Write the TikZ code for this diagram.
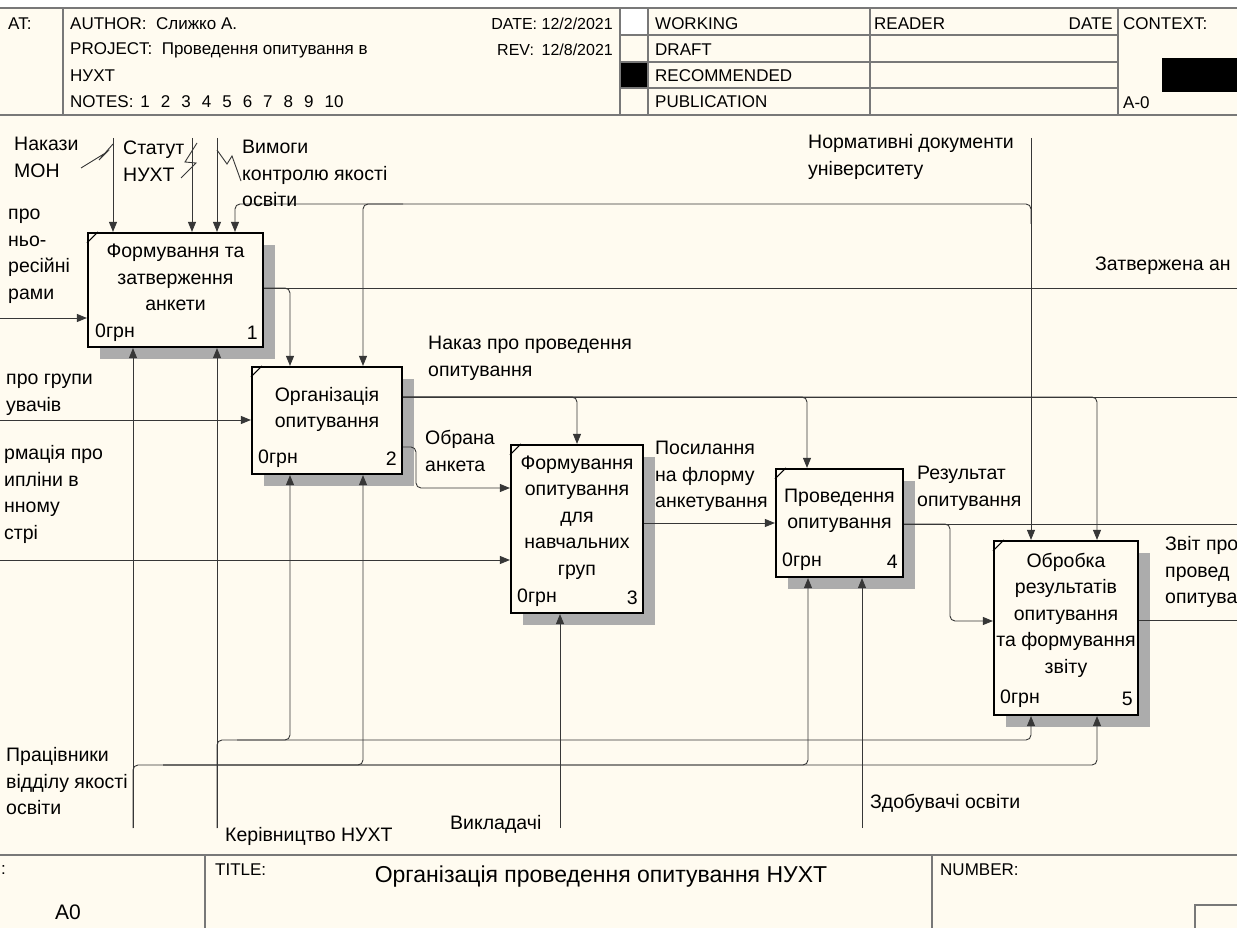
\documentclass[tikz,border=0pt]{standalone}
\usepackage{fontspec}
\setmainfont{Liberation Sans}
\usetikzlibrary{arrows.meta,shadows}
\definecolor{bg}{RGB}{255,251,240}
\definecolor{ln}{RGB}{55,55,55}
\definecolor{hd}{RGB}{120,120,120}
\definecolor{shd}{RGB}{172,172,172}
\newcommand{\fs}{\fontsize{19.5}{26.5}\selectfont}
\newcommand{\fh}{\fontsize{17}{20}\selectfont}
\newcommand{\ft}{\fontsize{23}{26}\selectfont}
\begin{document}
\begin{tikzpicture}[x=1pt,y=-1pt,
  conn/.style={draw=ln, line width=0.9pt, rounded corners=5pt},
  arr/.style={conn, -{Triangle[length=10pt,width=8pt]}},
  proc/.style={draw=black, line width=2.2pt, fill=bg, inner sep=0pt,
    general shadow={fill=shd, shadow xshift=12pt, shadow yshift=-12pt}},
  btxt/.style={align=center, inner sep=0pt, font=\fs},
  cost/.style={anchor=west, inner sep=0pt, font=\fs},
  numr/.style={anchor=east, inner sep=0pt, font=\fs},
  lbl/.style={anchor=north west, inner sep=0pt, align=left, font=\fs},
  hdr/.style={anchor=west, inner sep=0pt, font=\fh},
  hdline/.style={draw=hd, line width=1.5pt},
  sq/.style={draw=ln, line width=0.9pt},
]
\useasboundingbox (0,0) rectangle (1237,928);
\clip (0,0) rectangle (1237,928);
\fill[bg] (0,0) rectangle (1237,928);
\fill[white] (0,0) rectangle (1237,8);

% ---------- header ----------
\fill[white] (620,8) rectangle (648,35);
\fill[black] (620,62) rectangle (648,88);
\fill[black] (1162,58) rectangle (1237,92);
\draw[hdline] (0,8) -- (1237,8);
\draw[hdline] (0,115) -- (1237,115);
\draw[hdline] (63,8) -- (63,115);
\draw[hdline] (620,8) -- (620,115);
\draw[hdline] (648,8) -- (648,115);
\draw[hdline] (870,8) -- (870,115);
\draw[hdline] (1118,8) -- (1118,115);
\draw[hdline] (620,35) -- (1118,35);
\draw[hdline] (620,62) -- (1118,62);
\draw[hdline] (620,88) -- (1118,88);

\node[hdr] (hAT) at (8,24) {AT:};
\node[hdr] (hAu) at (70,24) {AUTHOR:\ \ Слижко А.};
\node[hdr] (hPr) at (70,50) {PROJECT:\ \ Проведення опитування в};
\node[hdr] (hNu) at (70,76) {НУХТ};
\node[hdr] (hNo) at (70,102) {NOTES:\hspace{7pt}1\hspace{11pt}2\hspace{11pt}3\hspace{11pt}4\hspace{11pt}5\hspace{11pt}6\hspace{11pt}7\hspace{11pt}8\hspace{11pt}9\hspace{11pt}10};
\node[hdr,anchor=east,font=\fontsize{16}{19}\selectfont] (hDa) at (613,24) {DATE: 12/2/2021};
\node[hdr,font=\fontsize{16}{19}\selectfont] (hRe) at (497,50) {REV:};
\node[hdr,anchor=east,font=\fontsize{16}{19}\selectfont] (hRe2) at (613,50) {12/8/2021};
\node[hdr] (hWo) at (655,24) {WORKING};
\node[hdr] (hDr) at (655,50) {DRAFT};
\node[hdr] (hRc) at (655,76) {RECOMMENDED};
\node[hdr] (hPu) at (655,102) {PUBLICATION};
\node[hdr] (hRd) at (874,24) {READER};
\node[hdr,anchor=east] (hDt) at (1113,24) {DATE};
\node[hdr] (hCx) at (1123,24) {CONTEXT:};
\node[hdr] (hA0) at (1123,103) {A-0};

% ---------- title block ----------
\draw[hdline] (0,855) -- (1237,855);
\draw[hdline] (205,855) -- (205,928);
\draw[hdline] (932,855) -- (932,928);
\draw[hdline] (1195,928) -- (1195,905) -- (1237,905);
\node[hdr] (tN) at (1,870) {:};
\node[hdr] (tT) at (215,870) {TITLE:};
\node[inner sep=0pt, font=\ft] (tTitle) at (601,877) {Організація проведення опитування НУХТ};
\node[hdr] (tNu) at (940,870) {NUMBER:};
\node[hdr, font=\fontsize{21}{24}\selectfont] (tA0) at (55,912) {A0};

% ---------- boxes ----------
\node[proc, minimum width=175pt, minimum height=114pt] (b1) at (175.5,290) {};
\node[proc, minimum width=150pt, minimum height=107pt] (b2) at (327,420.5) {};
\node[proc, minimum width=132pt, minimum height=168pt] (b3) at (577,529) {};
\node[proc, minimum width=127pt, minimum height=108pt] (b4) at (839.5,523) {};
\node[proc, minimum width=144pt, minimum height=174pt] (b5) at (1066,628) {};

\foreach \b in {b1,b2,b3,b4,b5}{
  \draw[line width=1pt] ([yshift=-11pt]\b.north west) -- ([xshift=11pt]\b.north west);
}

\node[btxt] (t1) at (175.5,279) {\strut Формування та\\затверження\\анкети\strut};
\node[btxt] (t2) at (327,409) {\strut Організація\\опитування\strut};
\node[btxt] (t3) at (577,517) {\strut Формування\\опитування\\для\\навчальних\\груп\strut};
\node[btxt] (t4) at (839.5,510) {\strut Проведення\\опитування\strut};
\node[btxt] (t5) at (1066,615) {\strut Обробка\\результатів\\опитування\\та формування\\звіту\strut};

\node[cost] (c1) at (95,333) {0грн};   \node[numr] (n1) at (258,333) {1};
\node[cost] (c2) at (258,459) {0грн};  \node[numr] (n2) at (397,459) {2};
\node[cost] (c3) at (517,598) {0грн};  \node[numr] (n3) at (638,598) {3};
\node[cost] (c4) at (782,562) {0грн};  \node[numr] (n4) at (898,562) {4};
\node[cost] (c5) at (1000,699) {0грн}; \node[numr] (n5) at (1133,699) {5};

% ---------- controls of box 1 ----------
\coordinate (nakT) at (113,138);
\coordinate (statT) at (192,138);
\coordinate (vymT) at (217,138);
\draw[arr] (nakT) -- (nakT |- b1.north);
\draw[arr] (statT) -- (statT |- b1.north);
\draw[arr] (vymT) -- (vymT |- b1.north);
\draw[sq] (81,168) -- (107,152) -- (99,160) -- (113,144);
\draw[sq] (181,178) -- (196,163) -- (185,162) -- (197,143);
\draw[sq] (217,150) -- (227,164) -- (232,156) -- (241,181);

% Нормативні документи
\coordinate (normT) at (1031,138);
\coordinate (normJ) at (1031,204);
\coordinate (normB1) at (235,204);
\coordinate (normB2) at (363,204);
\draw[arr] (normT) -- (normT |- b5.north);
\draw[arr] ([yshift=-20pt]normJ) -- (normJ) -- (normB1) -- (normB1 |- b1.north);
\draw[arr] ([xshift=40pt]normB2) -- (normB2) -- (normB2 |- b2.north);

% Затвержена анкета
\coordinate (zatE) at (1237,288);
\coordinate (zatB) at (290,288);
\draw[conn] (b1.east |- zatE) -- (zatE);
\draw[arr] (b1.east |- zatE) -- (zatB) -- (zatB |- b2.north);

% Наказ про проведення опитування
\coordinate (nakE) at (1237,397);
\coordinate (nk3) at (577,397);
\coordinate (nk4) at (807,397);
\coordinate (nk5) at (1097,397);
\draw[conn] (b2.east |- nakE) -- (nakE);
\draw[arr] (b2.east |- nakE) -- (nk3) -- (nk3 |- b3.north);
\draw[arr] (b2.east |- nakE) -- (nk4) -- (nk4 |- b4.north);
\draw[arr] (b2.east |- nakE) -- (nk5) -- (nk5 |- b5.north);

% Обрана анкета
\coordinate (obA) at (416,447);
\coordinate (obB) at (416,488);
\draw[arr] (b2.east |- obA) -- (obA) -- (obB) -- (obB -| b3.west);

% inputs from the left
\coordinate (in1) at (0,318);
\coordinate (in2) at (0,420);
\coordinate (in3) at (0,560);
\draw[arr] (in1) -- (in1 -| b1.west);
\draw[arr] (in2) -- (in2 -| b2.west);
\draw[arr] (in3) -- (in3 -| b3.west);

% Посилання
\coordinate (pos) at (700,523);
\draw[arr] (b3.east |- pos) -- (b4.west |- pos);

% Результат
\coordinate (resE) at (1237,524);
\coordinate (resA) at (950,524);
\coordinate (resB) at (950,621);
\draw[conn] (b4.east |- resE) -- (resE);
\draw[arr] (b4.east |- resE) -- (resA) -- (resB) -- (resB -| b5.west);

% Звіт
\coordinate (zvE) at (1237,620);
\draw[conn] (b5.east |- zvE) -- (zvE);

% mechanisms
\coordinate (prB) at (133,828);
\coordinate (prJ) at (133,765);
\coordinate (pr2) at (363,765);
\coordinate (pr4) at (808,765);
\coordinate (pr5) at (1097,765);
\draw[arr] (prB) -- (prB |- b1.south);
\draw[arr] (prB) -- (prJ) -- (pr5) -- (pr5 |- b5.south);
\draw[arr] ([xshift=30pt]prJ) -- (pr2) -- (pr2 |- b2.south);
\draw[arr] ([xshift=30pt]prJ) -- (pr4) -- (pr4 |- b4.south);

\coordinate (kerB) at (217,828);
\coordinate (kerJ) at (217,740);
\coordinate (ker2) at (290,740);
\coordinate (ker5) at (1031,740);
\draw[arr] (kerB) -- (kerB |- b1.south);
\draw[arr] (kerB) -- (kerJ) -- (ker5) -- (ker5 |- b5.south);
\draw[arr] ([xshift=20pt]kerJ) -- (ker2) -- (ker2 |- b2.south);

\coordinate (vykB) at (560,828);
\draw[arr] (vykB) -- (vykB |- b3.south);
\coordinate (zdB) at (862,828);
\draw[arr] (zdB) -- (zdB |- b4.south);

% ---------- labels ----------
\node[lbl] (lNak) at (14,132) {\strut Накази\\МОН};
\node[lbl] (lSt) at (123,136) {\strut Статут\\НУХТ};
\node[lbl] (lVy) at (242,135) {\strut Вимоги\\контролю якості\\освіти};
\node[lbl] (lNo) at (808,130) {\strut Нормативні документи\\університету};
\node[lbl] (lZa) at (1095,252) {\strut Затвержена ан};
\node[lbl] (lIn1) at (8,201) {\strut про\\ньо-\\ресійні\\рами};
\node[lbl] (lIn2) at (6,366) {\strut про групи\\увачів};
\node[lbl] (lIn3) at (4,441) {\strut рмація про\\ипліни в\\нному\\стрі};
\node[lbl] (lNa) at (428,331) {\strut Наказ про проведення\\опитування};
\node[lbl] (lOb) at (425,426) {\strut Обрана\\анкета};
\node[lbl] (lPo) at (655,436) {\strut Посилання\\на флорму\\анкетування};
\node[lbl] (lRe) at (917,461) {\strut Результат\\опитування};
\node[lbl] (lZv) at (1165,532) {\strut Звіт про\\провед\\опитува};
\node[lbl] (lPr) at (6,743) {\strut Працівники\\відділу якості\\освіти};
\node[lbl] (lKe) at (225,823) {\strut Керівництво НУХТ};
\node[lbl] (lVk) at (450,811) {\strut Викладачі};
\node[lbl] (lZd) at (870,790) {\strut Здобувачі освіти};
\end{tikzpicture}
\end{document}
